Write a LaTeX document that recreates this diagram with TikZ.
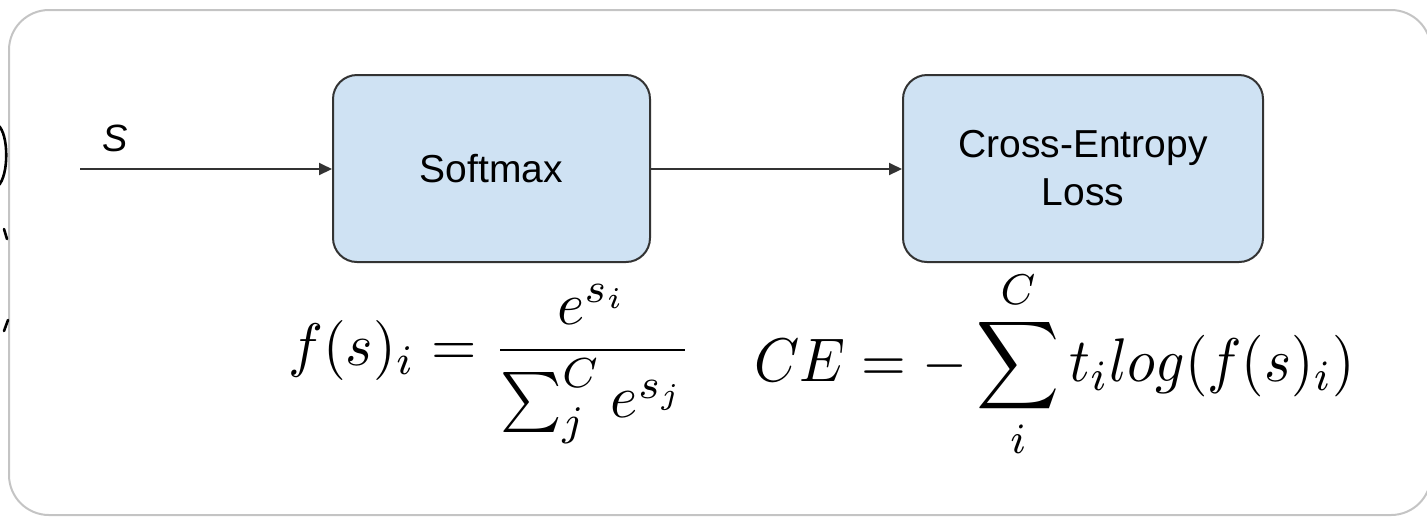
\documentclass[tikz,border=0pt]{standalone}
\usepackage[no-math]{fontspec}
\newfontfamily\arialfont{Liberation Sans}
\usetikzlibrary{arrows.meta}
\definecolor{boxfill}{HTML}{CFE2F3}
\definecolor{lineclr}{HTML}{333333}
\definecolor{framegray}{HTML}{C4C4C4}
\tikzset{
  blockbox/.style={draw=lineclr, line width=1pt, fill=boxfill, rounded corners=12pt,
    minimum height=93.5pt, inner sep=0pt, align=center,
    font=\arialfont\fontsize{19.5}{24}\selectfont},
  flow/.style={draw=lineclr, line width=1pt, -{Triangle[length=6.5pt,width=6pt]}},
  eqn/.style={inner sep=0pt, anchor=base west},
  frag/.style={line width=1.3pt, line cap=round}
}
\begin{document}
\begin{tikzpicture}[x=0.5pt,y=-0.5pt]
\useasboundingbox (0,0) rectangle (1427,516);
\begin{scope}
\clip (0,0) rectangle (1427,516);
\draw[framegray, line width=1pt, rounded corners=20pt] (9,10) rectangle (1431,515);
% fragments at the left edge
\draw[frag] (-2,125) .. controls (9,134) and (9,176) .. (-2,186);
\draw[frag] (4,229) -- (7,239);
\draw[frag] (8,320) -- (4,331);
\end{scope}

\node[blockbox, minimum width=158.5pt] (soft) at (491.5,168.5) {Softmax};
\node[blockbox, minimum width=180pt] (ce) at (1083,168.5) {Cross-Entropy\\Loss};
\coordinate (in) at (80,169);
\node[font=\arialfont\itshape\fontsize{19}{22}\selectfont, inner sep=0pt] (s) at (115,138.5) {S};

\draw[flow] (in) -- (soft.west |- in);
\draw[flow] (soft.east |- in) -- (ce.west |- in);

\node[eqn, xscale=2.92, yscale=3] (eq1) at (287,365) {$\displaystyle f(s)_i = \frac{e^{s_i}}{\sum_j^C e^{s_j}}$};
\node[eqn, xscale=2.88, yscale=3.08] (eq2) at (753,381) {$\displaystyle CE = -\sum_i^C t_i log(f(s)_i)$};
\end{tikzpicture}
\end{document}
